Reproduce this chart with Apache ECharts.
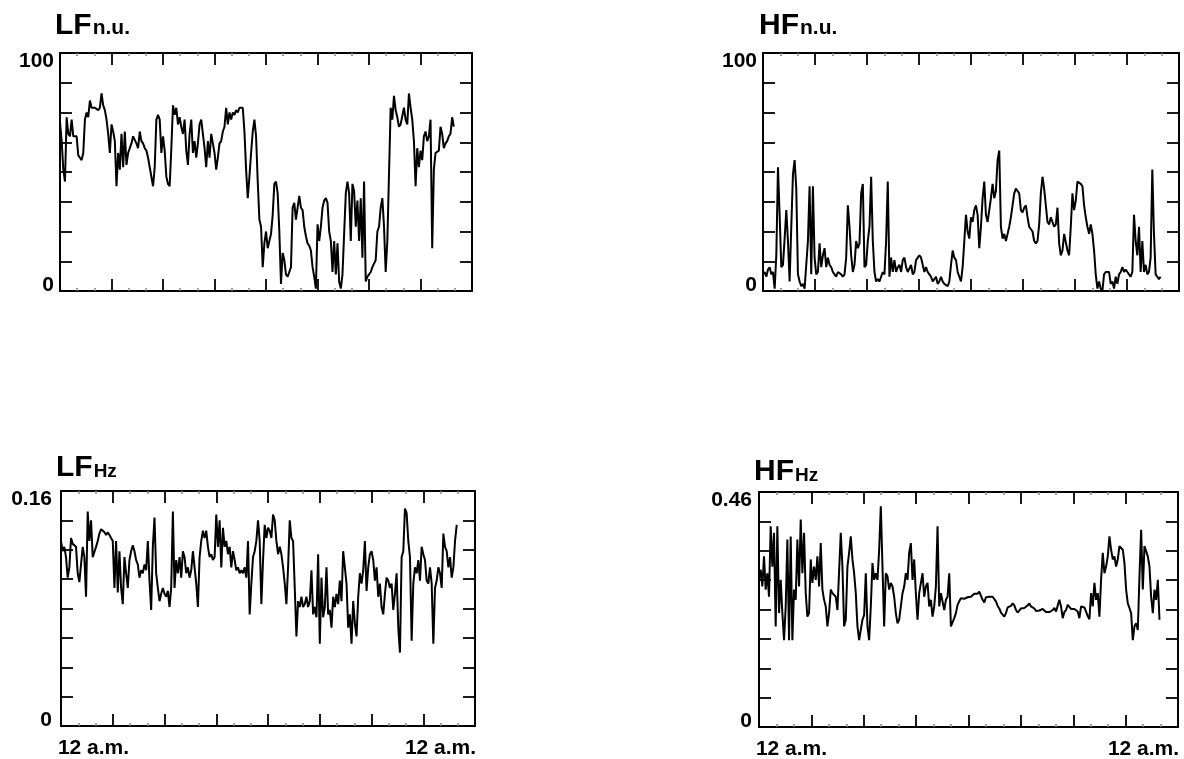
<!DOCTYPE html>
<html>
<head>
<meta charset="utf-8">
<script src="https://cdn.jsdelivr.net/npm/echarts@6/dist/echarts.min.js"></script>
<style>
html,body{margin:0;padding:0;background:#fff;}
#chart{width:1184px;height:759px;}
</style>
</head>
<body>
<div id="chart"></div>
<script>
// ---- data (hours from midnight, uniformly sampled up to LAST_HOUR) ----
const LAST_HOUR = 22.94;
const X_MAX = 24;
const X_INTERVAL = 3;
const xTickLabels = ['12 a.m.', '12 a.m.'];

const titleMain = ['LF', 'HF', 'LF', 'HF'];
const titleUnit = ['n.u.', 'n.u.', 'Hz', 'Hz'];
const yMaxValues = [100, 100, 0.16, 0.46];
const yMaxLabels = ['100', '100', '0.16', '0.46'];
const yMinLabel = '0';

const lfNu = [71,63,51,46,73,66,65,72,65,65,65,57,56,55,58,72,75,73,80,77,77,77,77,76,77,83,78,76,72,66,58,70,67,63,44,58,51,66,52,67,53,58,60,62,65,65,62,60,67,63,62,60,59,56,52,48,44,52,72,74,72,58,65,59,48,45,44,60,78,74,77,70,73,69,66,72,59,53,66,72,58,63,56,62,70,72,66,60,52,63,56,66,62,58,51,56,62,63,67,69,77,70,75,72,75,74,76,75,77,77,77,67,51,39,48,58,67,72,65,46,30,27,10,20,25,18,21,24,32,45,46,41,25,3,16,13,7,6,8,10,35,37,30,35,40,35,34,27,23,20,19,17,10,6,1,28,21,27,35,38,39,37,25,21,8,21,7,20,4,1,7,24,41,46,41,21,45,42,27,38,21,39,14,46,4,6,7,8,10,10,13,25,27,35,39,27,8,21,49,77,72,82,76,73,69,70,70,77,72,70,83,77,72,63,44,60,52,59,55,65,67,63,65,72,18,51,58,58,59,69,66,60,62,63,65,66,73,69];

const hfNu = [7,8,6,9,10,7,8,1,15,52,32,10,11,22,34,21,4,27,49,55,43,7,4,2,3,1,1,21,44,7,44,14,7,8,20,10,15,18,10,14,11,10,8,7,6,8,8,7,6,7,14,36,27,15,8,11,21,18,20,41,45,10,11,21,27,48,21,8,4,5,4,6,8,7,21,46,6,14,8,13,8,10,11,8,13,14,10,8,8,11,7,8,13,14,15,14,11,8,10,8,7,6,4,5,6,3,4,6,4,3,3,2,4,11,17,14,13,8,6,4,10,21,32,25,22,31,29,34,36,32,18,27,39,46,32,29,34,39,45,39,42,55,59,27,22,24,21,24,27,31,36,41,43,42,41,34,33,35,36,31,27,27,25,21,20,21,28,41,48,43,36,29,28,31,29,27,28,35,20,15,17,24,24,17,15,27,41,34,38,46,46,45,44,36,31,27,24,28,24,17,7,1,4,1,0,7,8,8,8,3,4,1,6,3,7,8,10,8,9,8,7,6,8,32,21,15,27,8,21,8,11,7,8,14,51,24,7,6,5,6];

const lfHz = [0.126,0.119,0.122,0.115,0.101,0.108,0.128,0.124,0.123,0.122,
0.104,0.098,0.110,0.122,0.115,0.088,0.146,0.126,0.140,0.115,
0.116,0.122,0.126,0.131,0.134,0.135,0.132,0.130,0.132,0.130,
0.131,0.126,0.094,0.126,0.091,0.119,0.094,0.083,0.115,0.104,
0.094,0.113,0.119,0.123,0.119,0.113,0.110,0.101,0.106,0.104,
0.110,0.106,0.126,0.099,0.079,0.122,0.142,0.104,0.094,0.085,
0.090,0.094,0.090,0.088,0.092,0.081,0.094,0.146,0.094,0.113,
0.104,0.115,0.101,0.119,0.115,0.104,0.108,0.101,0.106,0.119,
0.108,0.097,0.081,0.115,0.126,0.133,0.128,0.133,0.122,0.115,
0.117,0.113,0.115,0.144,0.122,0.140,0.108,0.135,0.122,0.126,
0.117,0.122,0.108,0.119,0.113,0.106,0.108,0.104,0.106,0.104,
0.108,0.101,0.126,0.076,0.097,0.115,0.119,0.126,0.140,0.126,
0.083,0.113,0.137,0.128,0.135,0.133,0.128,0.144,0.140,0.126,
0.117,0.122,0.117,0.108,0.097,0.083,0.108,0.140,0.128,0.126,
0.094,0.061,0.085,0.081,0.088,0.081,0.083,0.088,0.081,0.085,
0.106,0.076,0.081,0.074,0.117,0.056,0.101,0.074,0.081,0.108,
0.076,0.079,0.067,0.088,0.081,0.090,0.083,0.099,0.085,0.119,
0.119,0.097,0.067,0.076,0.056,0.085,0.070,0.061,0.088,0.104,
0.097,0.106,0.126,0.092,0.108,0.117,0.119,0.113,0.099,0.108,
0.088,0.097,0.081,0.076,0.090,0.101,0.099,0.094,0.097,0.079,
0.090,0.104,0.067,0.050,0.115,0.119,0.148,0.145,0.126,0.115,
0.058,0.097,0.108,0.104,0.113,0.099,0.122,0.117,0.113,0.099,
0.097,0.108,0.097,0.056,0.094,0.099,0.108,0.104,0.094,0.131,
0.122,0.119,0.108,0.115,0.101,0.108,0.126,0.137];

const hfHz = [0.288,0.308,0.275,0.334,0.269,0.301,0.255,0.393,0.314,0.380,
0.197,0.393,0.223,0.288,0.223,0.170,0.236,0.367,0.170,0.373,
0.170,0.269,0.249,0.367,0.275,0.406,0.301,0.380,0.262,0.216,
0.223,0.328,0.282,0.314,0.288,0.334,0.275,0.360,0.269,0.249,
0.236,0.197,0.223,0.269,0.262,0.262,0.255,0.229,0.229,0.380,
0.314,0.197,0.210,0.314,0.341,0.373,0.328,0.301,0.262,0.197,
0.170,0.190,0.210,0.219,0.301,0.197,0.170,0.236,0.321,0.288,
0.301,0.288,0.347,0.432,0.314,0.197,0.301,0.295,0.269,0.282,
0.275,0.255,0.223,0.203,0.210,0.236,0.262,0.275,0.301,0.288,
0.341,0.360,0.288,0.328,0.262,0.210,0.262,0.262,0.301,0.255,
0.275,0.282,0.236,0.249,0.216,0.236,0.275,0.393,0.236,0.262,
0.262,0.229,0.249,0.255,0.301,0.197,0.197,0.213,0.223,0.239,
0.246,0.252,0.250,0.251,0.250,0.254,0.255,0.255,0.258,0.261,
0.258,0.261,0.265,0.263,0.249,0.244,0.254,0.253,0.255,0.255,
0.255,0.253,0.246,0.237,0.232,0.224,0.223,0.216,0.223,0.234,
0.233,0.237,0.242,0.238,0.229,0.224,0.227,0.232,0.233,0.233,
0.234,0.238,0.242,0.236,0.234,0.232,0.227,0.228,0.228,0.226,
0.231,0.231,0.225,0.223,0.225,0.228,0.229,0.233,0.226,0.228,
0.249,0.236,0.213,0.225,0.229,0.239,0.237,0.231,0.232,0.231,
0.232,0.226,0.213,0.236,0.233,0.234,0.226,0.217,0.211,0.262,
0.236,0.282,0.249,0.262,0.216,0.288,0.341,0.301,0.314,0.334,
0.373,0.347,0.328,0.334,0.314,0.328,0.354,0.357,0.347,0.321,
0.269,0.242,0.233,0.223,0.170,0.197,0.203,0.190,0.295,0.386,
0.269,0.354,0.354,0.334,0.314,0.255,0.223,0.269,0.249,0.288,
0.210];

const seriesValues = [lfNu, hfNu, lfHz, hfHz];

// ---- layout / style ----
const FONT = '"Liberation Sans", Arial, Helvetica, sans-serif';
const INK = '#000';
const TICK_FONT = 21;
const grids = [
  {left: 60,  top: 53,  width: 412, height: 238},
  {left: 763, top: 53,  width: 416, height: 238},
  {left: 61,  top: 491, width: 414, height: 235},
  {left: 759, top: 492, width: 419, height: 235}
];
const yLabelMargins = [6, 6, 9, 7];
const titlePos = [[55, 7], [759, 7], [56, 449], [754, 453]];

function toPoints(values) {
  const step = LAST_HOUR / (values.length - 1);
  return values.map((v, i) => [i * step, v]);
}

const labelStyle = {fontFamily: FONT, fontSize: TICK_FONT, fontWeight: 'bold', color: INK};

const xAxes = [], yAxes = [], series = [], titles = [];
grids.forEach((g, i) => {
  const yMax = yMaxValues[i];
  const showX = i >= 2;
  const common = {
    gridIndex: i, type: 'value', min: 0, max: X_MAX, interval: X_INTERVAL,
    axisLine: {show: true, onZero: false, lineStyle: {color: INK, width: 2}},
    axisTick: {show: true, inside: true, length: 12, lineStyle: {color: INK, width: 1.8}},
    minorTick: {show: true, splitNumber: 3, length: 3, lineStyle: {color: '#888', width: 1.5}},
    splitLine: {show: false}, minorSplitLine: {show: false}
  };
  xAxes.push(Object.assign({}, common, {
    position: 'bottom',
    axisLabel: Object.assign({
      show: showX, showMinLabel: true, showMaxLabel: true, margin: 12,
      formatter: function (v) {
        if (v === 0) return '{l|' + xTickLabels[0] + '}';
        if (v === X_MAX) return '{r|' + xTickLabels[1] + '}';
        return '';
      },
      rich: {
        l: Object.assign({padding: [0, 0, 0, 65]}, labelStyle),
        r: Object.assign({padding: [0, 69, 0, 0]}, labelStyle)
      }
    }, labelStyle)
  }));
  xAxes.push(Object.assign({}, common, {position: 'top', axisLabel: {show: false}}));

  const yCommon = {
    gridIndex: i, type: 'value', min: 0, max: yMax, interval: yMax / 8,
    axisLine: {show: true, onZero: false, lineStyle: {color: INK, width: 2}},
    axisTick: {show: true, inside: true, length: 12, lineStyle: {color: INK, width: 1.8}},
    splitLine: {show: false}
  };
  yAxes.push(Object.assign({}, yCommon, {
    position: 'left',
    axisLabel: Object.assign({
      show: true, showMinLabel: true, showMaxLabel: true, margin: yLabelMargins[i],
      formatter: function (v) {
        if (Math.abs(v) < 1e-9) return '{b|' + yMinLabel + '}';
        if (Math.abs(v - yMax) < 1e-6) return '{t|' + yMaxLabels[i] + '}';
        return '';
      },
      rich: {
        t: Object.assign({padding: [16, 0, 0, 0]}, labelStyle),
        b: Object.assign({padding: [0, 0, 12, 0]}, labelStyle)
      }
    }, labelStyle)
  }));
  yAxes.push(Object.assign({}, yCommon, {position: 'right', axisLabel: {show: false}}));

  series.push({
    type: 'line', xAxisIndex: 2 * i, yAxisIndex: 2 * i,
    data: toPoints(seriesValues[i]),
    showSymbol: false, symbol: 'none', smooth: false,
    lineStyle: {color: INK, width: 2}, clip: true
  });

  titles.push({
    text: '{a|' + titleMain[i] + '}{b|' + titleUnit[i] + '}',
    left: titlePos[i][0], top: titlePos[i][1], padding: 0,
    textStyle: {
      fontWeight: 'bold',
      rich: {
        a: {fontFamily: FONT, fontSize: 30, fontWeight: 'bold', color: INK, lineHeight: 34, verticalAlign: 'bottom'},
        b: {fontFamily: FONT, fontSize: i >= 2 ? 19 : 21, fontWeight: 'bold', color: INK, lineHeight: 34,
            verticalAlign: 'bottom', padding: [0, 0, 2, 1]}
      }
    }
  });
});

const chart = echarts.init(document.getElementById('chart'), null, {renderer: 'canvas'});
chart.setOption({
  backgroundColor: '#fff',
  animation: false,
  title: titles,
  grid: grids.map(g => Object.assign({containLabel: false, outerBoundsMode: 'none'}, g)),
  xAxis: xAxes,
  yAxis: yAxes,
  series: series
});
</script>
</body>
</html>
